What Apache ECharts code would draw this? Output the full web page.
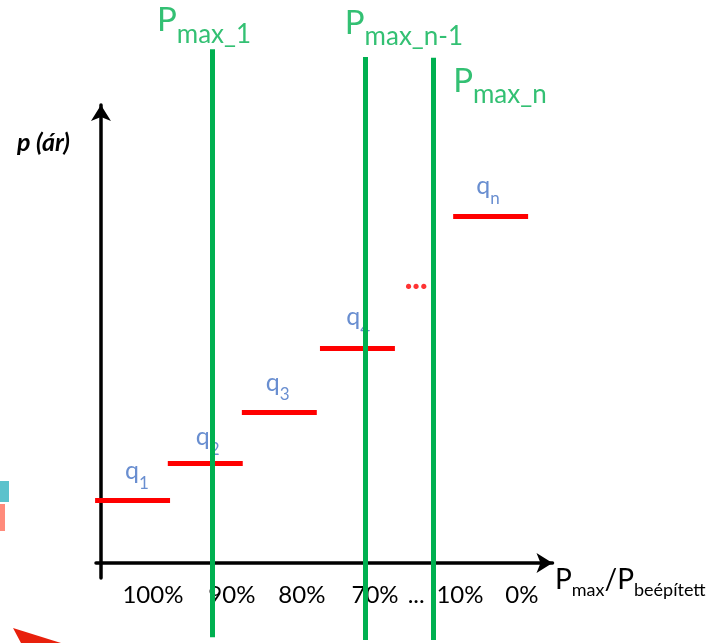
<!DOCTYPE html>
<html>
<head>
<meta charset="utf-8">
<style>
  html, body { margin: 0; padding: 0; background: #fff; }
  #chart { width: 715px; height: 643px; }
</style>
<script src="https://cdn.jsdelivr.net/npm/echarts@6/dist/echarts.min.js"></script>
</head>
<body>
<div id="chart"></div>
<script>
// price steps q1..qn (x = share of capacity, y = price)
const stepNames = ['1', '2', '3', '4', 'n'];
const stepStart = [-1.3, 14.8, 31.2, 48.5, 78.0];
const stepEnd = [15.3, 31.4, 47.8, 65.1, 94.6];
const stepPrice = [13.6, 21.8, 32.9, 46.8, 75.7];
const stepLabelX = [5.3, 21.0, 36.5, 54.3, 83.1];
const stepLabelY = [18.6, 26.0, 38.0, 52.2, 80.8];

// capacity limits P_max
const capNames = ['max_1', 'max_n-1', 'max_n'];
const capX = [24.6, 58.5, 73.5];
const capTop = [112.2, 110.5, 110.3];
const capBottom = [-16.2, -16.8, -16.8];
const capLabelX = [12.4, 54.0, 78.0];
const capLabelY = [115.9, 115.3, 102.6];

// x axis ticks
const tickLabels = ['100%', '90%', '80%', '70%', '...', '10%', '0%'];
const tickPos = [11.5, 29.0, 44.5, 60.7, 69.8, 79.5, 93.2];

// red "..." between q4 and qn
const gapMark = [69.8, 60.3];

const FONT = 'Lato, "Open Sans", sans-serif';
const GREEN = '#00B050';
const RED = '#FF0000';
const BLUE = '#4472C4';

const chart = echarts.init(document.getElementById('chart'));

const axisLine = {
  show: true,
  onZero: true,
  symbol: ['none', 'arrow'],
  symbolSize: [15, 16],
  lineStyle: { color: '#000', width: 3.5 }
};

chart.setOption({
  animation: false,
  backgroundColor: '#fff',
  grid: { left: 96, right: 162.5, top: 105, bottom: 64.9 },
  xAxis: {
    type: 'value',
    min: -1.1,
    max: 100,
    axisLine: axisLine,
    axisTick: { show: false },
    splitLine: { show: false },
    axisLabel: {
      show: true,
      customValues: tickPos,
      margin: 5,
      color: '#000',
      fontFamily: FONT,
      fontSize: 24,
      lineHeight: 24,
      formatter: function (v) {
        const i = tickPos.indexOf(v);
        return i >= 0 ? tickLabels[i] : '';
      }
    },
    name: '{P|P}{s|max}{P|/P}{s|beépített}',
    nameLocation: 'end',
    nameGap: 2.5,
    nameTextStyle: {
      align: 'left',
      verticalAlign: 'top',
      padding: [8, 0, 0, 0],
      rich: {
        P: { fontFamily: FONT, fontSize: 28, lineHeight: 28, color: '#000', padding: [0, 0, 5, 0], verticalAlign: 'bottom' },
        s: { fontFamily: FONT, fontSize: 18, lineHeight: 18, color: '#000', verticalAlign: 'bottom' }
      }
    }
  },
  yAxis: {
    type: 'value',
    min: -3.3,
    max: 100,
    axisLine: axisLine,
    axisTick: { show: false },
    axisLabel: { show: false },
    splitLine: { show: false },
    name: 'p (ár)',
    nameLocation: 'end',
    nameGap: -38,
    nameTextStyle: {
      align: 'right',
      verticalAlign: 'middle',
      padding: [0, 31, 0, 0],
      fontFamily: FONT,
      fontSize: 25,
      fontWeight: 'bold',
      fontStyle: 'italic',
      color: '#000'
    }
  },
  graphic: [
    { type: 'rect', left: 0, top: 481, shape: { width: 9, height: 21 }, style: { fill: '#5BC2CC' }, z: 0 },
    { type: 'rect', left: 0, top: 504, shape: { width: 5, height: 27 }, style: { fill: '#FF8B7B' }, z: 0 },
    { type: 'polygon', shape: { points: [[13, 628], [61, 643], [21, 643]] }, style: { fill: '#E8200C' }, z: 0 }
  ],
  series: [
    {
      type: 'lines',
      coordinateSystem: 'cartesian2d',
      clip: false,
      z: 2,
      lineStyle: { color: RED, width: 5, opacity: 1 },
      data: stepStart.map((s, i) => ({ coords: [[s, stepPrice[i]], [stepEnd[i], stepPrice[i]]] }))
    },
    {
      type: 'scatter',
      clip: false,
      z: 3,
      symbolSize: 0,
      data: stepLabelX.map((x, i) => [x, stepLabelY[i]]),
      label: {
        show: true,
        position: 'right',
        distance: 0,
        offset: [0, 1.5],
        formatter: p => '{q|q}{s|' + stepNames[p.dataIndex] + '}',
        rich: {
          q: { fontFamily: FONT, fontSize: 25, lineHeight: 25, color: BLUE, padding: [0, 0, 8, 0], verticalAlign: 'bottom' },
          s: { fontFamily: FONT, fontSize: 17, lineHeight: 17, color: BLUE, verticalAlign: 'bottom' }
        }
      }
    },
    {
      type: 'scatter',
      clip: false,
      z: 3,
      symbolSize: 0,
      data: [gapMark],
      label: {
        show: true,
        position: 'inside',
        offset: [0, -8],
        formatter: '...',
        fontFamily: FONT,
        fontSize: 32,
        fontWeight: 900,
        color: RED
      }
    },
    {
      type: 'scatter',
      clip: false,
      z: 3,
      symbolSize: 0,
      data: capLabelX.map((x, i) => [x, capLabelY[i]]),
      label: {
        show: true,
        position: 'right',
        distance: 0,
        offset: [0, -1.5],
        formatter: p => '{P|P}{s|' + capNames[p.dataIndex] + '}',
        rich: {
          P: { fontFamily: FONT, fontSize: 33, lineHeight: 33, color: GREEN, padding: [0, 0, 10, 0], verticalAlign: 'bottom' },
          s: { fontFamily: FONT, fontSize: 26, lineHeight: 26, color: GREEN, verticalAlign: 'bottom' }
        }
      }
    },
    {
      type: 'lines',
      coordinateSystem: 'cartesian2d',
      clip: false,
      z: 5,
      lineStyle: { color: GREEN, width: 5, opacity: 1 },
      data: capX.map((x, i) => ({ coords: [[x, capBottom[i]], [x, capTop[i]]] }))
    }
  ]
});
</script>
</body>
</html>
